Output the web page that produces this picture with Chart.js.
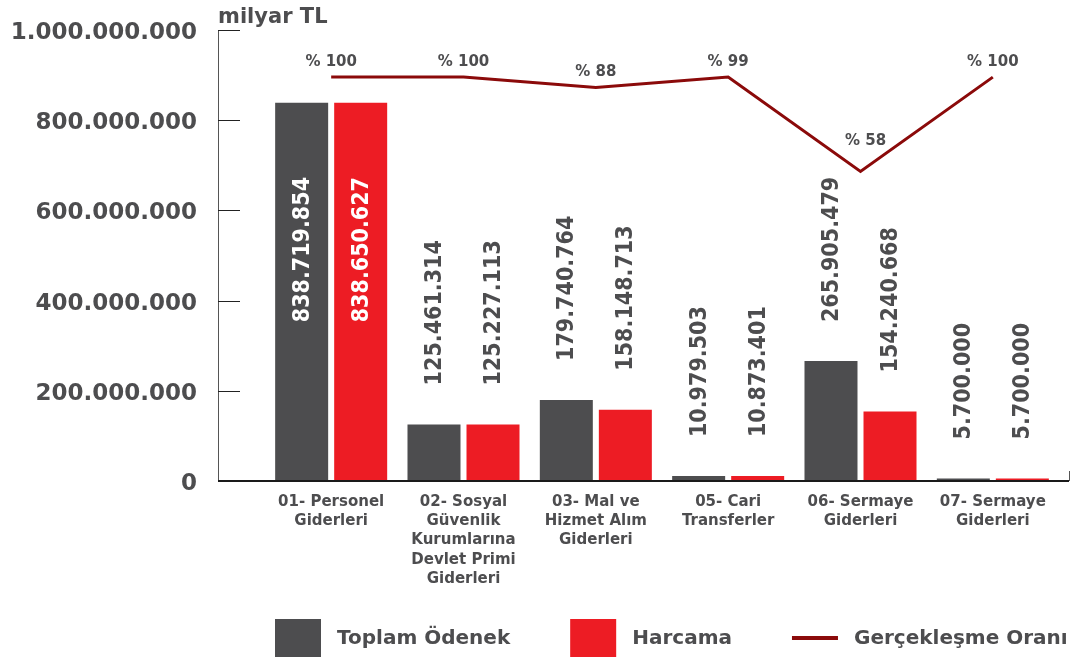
<!DOCTYPE html>
<html lang="tr">
<head>
<meta charset="utf-8">
<title>Toplam Ödenek ve Harcama</title>
<script src="https://cdn.jsdelivr.net/npm/chart.js@4.4.1/dist/chart.umd.min.js"></script>
<style>
  html, body { margin: 0; padding: 0; background: #fff; }
  #kutu { width: 1088px; height: 659px; position: relative; }
</style>
</head>
<body>
<div id="kutu"><canvas id="grafik"></canvas></div>
<script>
// ========== VERİLER ==========
const kategoriler = [
  ['01- Personel', 'Giderleri'],
  ['02- Sosyal', 'Güvenlik', 'Kurumlarına', 'Devlet Primi', 'Giderleri'],
  ['03- Mal ve', 'Hizmet Alım', 'Giderleri'],
  ['05- Cari', 'Transferler'],
  ['06- Sermaye', 'Giderleri'],
  ['07- Sermaye', 'Giderleri']
];
const toplamOdenek = [838719854, 125461314, 179740764, 10979503, 265905479, 5700000];
const harcama = [838650627, 125227113, 158148713, 10873401, 154240668, 5700000];
// çizginin resimde çizildiği yükseklik (yüzde)
const oranCizgi = [100, 100, 95.4, 100, 58, 100];
// çizgi üzerindeki etiketler
const oranEtiket = [100, 100, 88, 99, 58, 100];
const yTikler = [0, 200000000, 400000000, 600000000, 800000000, 1000000000];

const GRI = '#4d4d4f';
const KIRMIZI = '#ed1c24';
const BORDO = '#8b0a0a';
const YAZI = '#4d4d4f';
const FONT = '"DejaVu Sans", sans-serif';
const FONT_DAR = '"DejaVu Sans Condensed", "DejaVu Sans", sans-serif';

function noktali(v) {
  return Math.round(v).toString().replace(/\B(?=(\d{3})+(?!\d))/g, '.');
}

// ========== EKSEN ÇİZGİLERİ, BAŞLIK, LEJANT ==========
const eksenEklentisi = {
  id: 'eksenler',
  afterDraw(chart) {
    const ctx = chart.ctx;
    const a = chart.chartArea;
    const y = chart.scales.y;
    const solX = a.left - 47;
    const sagX = a.right + 10;
    ctx.save();
    // dikey eksen
    ctx.strokeStyle = '#555';
    ctx.lineWidth = 1;
    ctx.beginPath();
    ctx.moveTo(solX + 0.5, y.getPixelForValue(yTikler[yTikler.length - 1]));
    ctx.lineTo(solX + 0.5, a.bottom);
    ctx.stroke();
    // tik çizgileri
    ctx.strokeStyle = '#222';
    yTikler.forEach(t => {
      const py = Math.round(y.getPixelForValue(t)) + 0.5;
      ctx.beginPath();
      ctx.moveTo(solX, py);
      ctx.lineTo(solX + 22, py);
      ctx.stroke();
    });
    // yatay eksen
    ctx.strokeStyle = '#1a1a1a';
    ctx.lineWidth = 2;
    ctx.beginPath();
    ctx.moveTo(solX, a.bottom);
    ctx.lineTo(sagX, a.bottom);
    ctx.stroke();
    ctx.lineWidth = 1;
    ctx.strokeStyle = '#555';
    ctx.beginPath();
    ctx.moveTo(sagX + 0.5, a.bottom - 10);
    ctx.lineTo(sagX + 0.5, a.bottom);
    ctx.stroke();

    // birim başlığı
    ctx.fillStyle = YAZI;
    ctx.font = 'bold 21px ' + FONT;
    ctx.textAlign = 'left';
    ctx.textBaseline = 'alphabetic';
    ctx.fillText('milyar TL', solX, 23);

    // lejant
    const lejantY = 638;
    let x = a.left + 10;
    ctx.font = 'bold 20px ' + FONT;
    ctx.textBaseline = 'middle';
    chart.data.datasets.forEach(ds => {
      if (ds.type === 'line') {
        ctx.strokeStyle = ds.borderColor;
        ctx.lineWidth = 4;
        ctx.beginPath();
        ctx.moveTo(x, lejantY);
        ctx.lineTo(x + 46, lejantY);
        ctx.stroke();
      } else {
        ctx.fillStyle = ds.backgroundColor;
        ctx.fillRect(x, lejantY - 19, 46, 38);
      }
      x += 46 + 16;
      ctx.fillStyle = YAZI;
      ctx.fillText(ds.label, x, lejantY + 1);
      x += ctx.measureText(ds.label).width + 60;
    });
    ctx.restore();
  }
};

// ========== DEĞER ETİKETLERİ ==========
const etiketEklentisi = {
  id: 'etiketler',
  afterDatasetsDraw(chart) {
    const ctx = chart.ctx;
    const a = chart.chartArea;
    ctx.save();
    // çubuk etiketleri (dikey)
    chart.data.datasets.forEach((ds, i) => {
      if (ds.type === 'line') return;
      const meta = chart.getDatasetMeta(i);
      meta.data.forEach((bar, j) => {
        const metin = noktali(ds.data[j]);
        ctx.font = 'bold 23px ' + FONT_DAR;
        const uzunluk = ctx.measureText(metin).width;
        ctx.save();
        ctx.translate(bar.x, 0);
        ctx.rotate(-Math.PI / 2);
        ctx.textBaseline = 'middle';
        if (bar.y - 39 - uzunluk < a.top) {
          // sığmıyor: çubuğun içine beyaz
          ctx.fillStyle = '#fff';
          ctx.textAlign = 'center';
          ctx.fillText(metin, -((bar.y + bar.base) / 2 - 42), 1);
        } else {
          ctx.fillStyle = YAZI;
          ctx.textAlign = 'left';
          ctx.fillText(metin, -(bar.y - 39), 1);
        }
        ctx.restore();
      });
    });
    // yüzde etiketleri
    const idx = chart.data.datasets.findIndex(d => d.type === 'line');
    const noktalar = chart.getDatasetMeta(idx).data;
    ctx.font = 'bold 15px ' + FONT;
    ctx.fillStyle = YAZI;
    ctx.textAlign = 'center';
    ctx.textBaseline = 'middle';
    noktalar.forEach((p, j) => {
      const onceki = noktalar[j - 1], sonraki = noktalar[j + 1];
      // derin çukurda etiket çizgiye değmesin diye biraz yukarı
      const dip = onceki && sonraki && p.y - Math.max(onceki.y, sonraki.y) > 30;
      ctx.fillText('% ' + oranEtiket[j], p.x + (dip ? 5 : 0), p.y - (dip ? 30 : 15));
    });
    ctx.restore();
  }
};

// ========== GRAFİK ==========
new Chart(document.getElementById('grafik'), {
  data: {
    labels: kategoriler,
    datasets: [
      {
        type: 'bar',
        label: 'Toplam Ödenek',
        data: toplamOdenek,
        backgroundColor: GRI,
        barPercentage: 0.898,
        categoryPercentage: 0.892
      },
      {
        type: 'bar',
        label: 'Harcama',
        data: harcama,
        backgroundColor: KIRMIZI,
        barPercentage: 0.898,
        categoryPercentage: 0.892
      },
      {
        type: 'line',
        label: 'Gerçekleşme Oranı',
        data: oranCizgi,
        yAxisID: 'yOran',
        order: -1,
        borderColor: BORDO,
        backgroundColor: BORDO,
        borderWidth: 3,
        pointRadius: 0,
        tension: 0,
        fill: false
      }
    ]
  },
  options: {
    responsive: true,
    maintainAspectRatio: false,
    animation: false,
    layout: { padding: { top: 30, right: 29, bottom: 0, left: 0 } },
    plugins: {
      legend: { display: false },
      tooltip: { enabled: false },
      title: { display: false }
    },
    scales: {
      x: {
        grid: { display: false },
        border: { display: false },
        ticks: {
          color: YAZI,
          font: { family: FONT, size: 15, weight: 'bold', lineHeight: 1.29 },
          padding: 3,
          autoSkip: false,
          maxRotation: 0
        },
        afterFit(s) { s.height = 178; }
      },
      y: {
        min: 0,
        max: 1000000000,
        // görünmez tik boyu etiketleri eksenden uzaklaştırır
        grid: { display: true, drawOnChartArea: false, drawTicks: true, tickLength: 68, color: 'rgba(0,0,0,0)' },
        border: { display: false },
        ticks: {
          stepSize: 200000000,
          color: YAZI,
          font: { family: FONT, size: 23, weight: 'bold' },
          padding: 0,
          labelOffset: 3,
          callback: v => noktali(v)
        },
        afterFit(s) { s.width = 265; }
      },
      yOran: {
        display: false,
        min: -80,
        max: 121
      }
    }
  },
  plugins: [eksenEklentisi, etiketEklentisi]
});
</script>
</body>
</html>
